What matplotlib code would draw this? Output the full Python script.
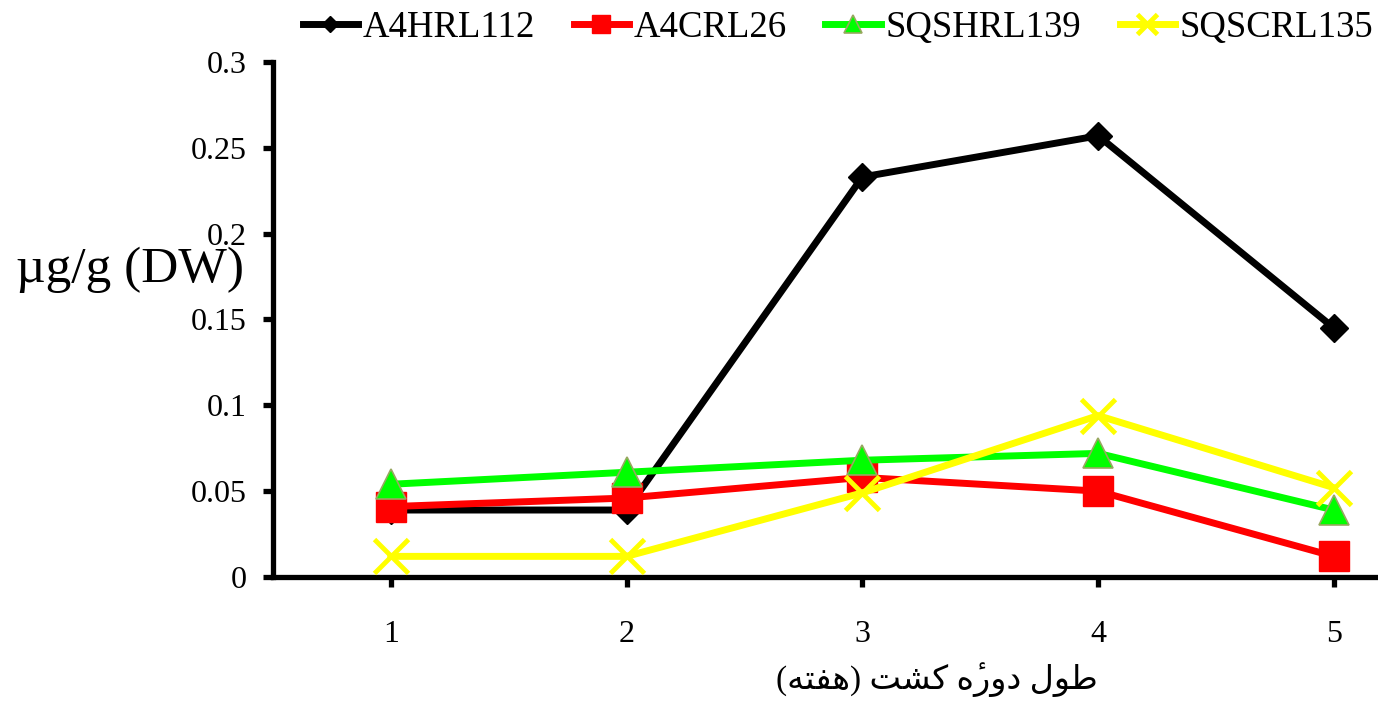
import matplotlib
matplotlib.use("Agg")
import matplotlib.pyplot as plt

# Week of cultivation and measured concentrations (µg/g DW)
weeks = [1, 2, 3, 4, 5]
a4hrl112 = [0.039, 0.039, 0.233, 0.257, 0.145]
a4crl26 = [0.041, 0.046, 0.058, 0.050, 0.012]
sqshrl139 = [0.054, 0.061, 0.068, 0.072, 0.039]
sqscrl135 = [0.012, 0.012, 0.049, 0.094, 0.052]
y_ticks = [0, 0.05, 0.1, 0.15, 0.2, 0.25, 0.3]
y_tick_labels = ["0", "0.05", "0.1", "0.15", "0.2", "0.25", "0.3"]

# Persian axis title, pre-shaped into presentation forms in visual order
x_title = ("(\uFEEA\uFE98\uFED4\uFEEB) \uFE96\uFEB8\uFB90 "
           "\uFEE9\u0654\uFEAD\uFEED\uFEA9 \uFEDD\uFEEE\uFEC3")
y_title = "\u00b5g/g (DW)"

plt.rcParams["font.family"] = ["Liberation Serif", "DejaVu Sans"]

fig = plt.figure(figsize=(13.78, 7.05), dpi=100)
ax = fig.add_axes([0.198, 0.1816, 0.8556, 0.7305])

lw = 5
ax.plot(weeks, a4hrl112, color="black", lw=lw, marker="D", ms=14,
        mfc="black", mec="black", label="A4HRL112", zorder=3)
ax.plot(weeks, a4crl26, color="#ff0000", lw=lw, marker="s", ms=21,
        mfc="#ff0000", mec="#ff0000", label="A4CRL26", zorder=4)
ax.plot(weeks, sqshrl139, color="#00ff00", lw=lw, marker="^", ms=22,
        mfc="#00ff00", mec="#98a860", mew=1.2, label="SQSHRL139", zorder=5)
ax.plot(weeks, sqscrl135, color="#ffff00", lw=lw, marker="x", ms=24,
        mew=3.5, mec="#ffff00", label="SQSCRL135", zorder=6)

ax.set_xlim(0.5, 5.5)
ax.set_ylim(0, 0.3)
ax.set_xticks(weeks)
ax.set_xticklabels([str(w) for w in weeks])
ax.set_yticks(y_ticks)
ax.set_yticklabels(y_tick_labels)

for side in ("top", "right"):
    ax.spines[side].set_visible(False)
for side in ("left", "bottom"):
    ax.spines[side].set_linewidth(3.8)
    ax.spines[side].set_color("black")

ax.tick_params(axis="both", direction="out", length=7, width=3.8,
               labelsize=23, colors="black")
ax.tick_params(axis="y", pad=12)
ax.tick_params(axis="x", pad=24)

ax.set_ylabel(y_title, fontsize=37, rotation=0, va="center", ha="center")
ax.yaxis.set_label_coords(-0.121, 0.596)
ax.set_xlabel(x_title, fontsize=24, va="center", ha="center",
              family=["Liberation Serif", "DejaVu Sans"])
ax.xaxis.set_label_coords(0.563, -0.20)

fig.legend(loc="upper left", bbox_to_anchor=(0.2035, 1.016), ncol=4,
           frameon=False, fontsize=26.5, handlelength=1.5, handletextpad=0.13,
           columnspacing=1.05, markerscale=0.6, borderaxespad=0.2)

fig.savefig("out.png", dpi=100)
